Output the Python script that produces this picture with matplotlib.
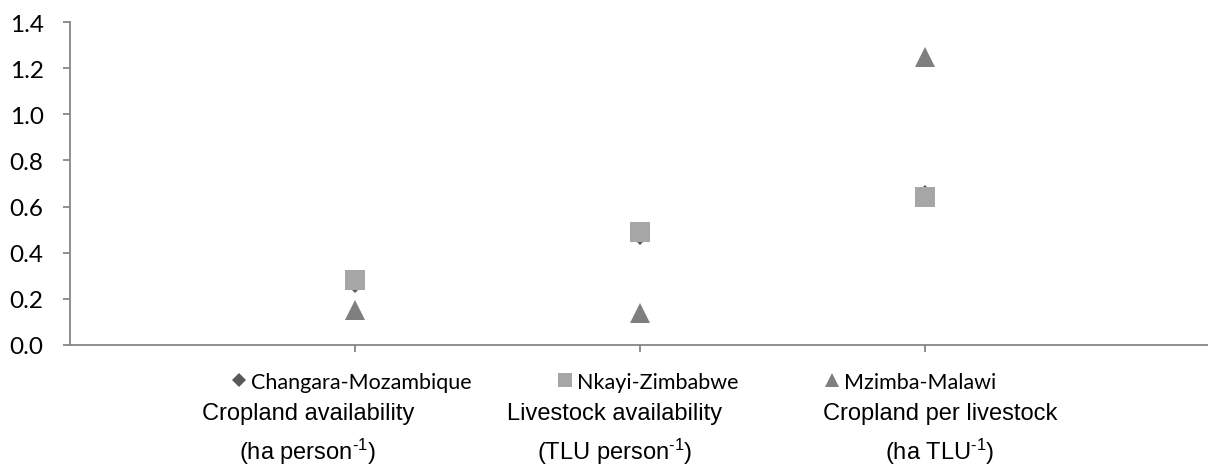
import matplotlib.pyplot as plt
from matplotlib.lines import Line2D

plt.rcParams['mathtext.fontset'] = 'custom'
plt.rcParams['mathtext.rm'] = 'Liberation Sans'
plt.rcParams['mathtext.it'] = 'Liberation Sans:italic'

cat_line1 = ['Cropland availability', 'Livestock availability', 'Cropland per livestock']
cat_line2 = [r'(ha person$^{\text{-1}}$)', r'(TLU person$^{\text{-1}}$)', r'(ha TLU$^{\text{-1}}$)']
series_names = ['Changara-Mozambique', 'Nkayi-Zimbabwe', 'Mzimba-Malawi']
changara = [0.26, 0.47, 0.66]
nkayi = [0.28, 0.49, 0.64]
mzimba = [0.15, 0.14, 1.25]
yticks = [0.0, 0.2, 0.4, 0.6, 0.8, 1.0, 1.2, 1.4]

W, H = 1208, 477
fig = plt.figure(figsize=(W / 100, H / 100), dpi=100)
ax = fig.add_axes([70 / W, (H - 346) / H, 1140 / W, (346 - 23) / H])

x = [1, 2, 3]
styles = [('D', 8, '#595959'), ('s', 14.4, '#A6A6A6'), ('^', 14.5, '#7F7F7F')]
for vals, (m, ms, c), name in zip([changara, nkayi, mzimba], styles, series_names):
    ax.plot(x, vals, linestyle='none', marker=m, markersize=ms, color=c,
            markeredgewidth=0, label=name, clip_on=False)

ax.set_xlim(0, 4)
ax.set_ylim(0, 1.4)
ax.set_yticks(yticks)
ax.set_yticklabels([f'{v:.1f}' for v in yticks], fontfamily='Lato', fontsize=17.5)
ax.set_xticks(x)
ax.set_xticklabels([])

for s in ['top', 'right']:
    ax.spines[s].set_visible(False)
for s in ['left', 'bottom']:
    ax.spines[s].set_color('#868686')
    ax.spines[s].set_linewidth(1.3)
ax.tick_params(axis='both', direction='out', length=5, width=1.3, color='#868686')
ax.tick_params(axis='y', pad=14)

# category labels written below the legend
label_pos = [308, 615, 940]
for l1, l2, px in zip(cat_line1, cat_line2, label_pos):
    fig.text(px / W, (H - 414) / H, l1, ha='center', va='center',
             fontfamily='Liberation Sans', fontsize=17)
    fig.text(px / W, (H - 452) / H, l2, ha='center', va='center',
             fontfamily='Liberation Sans', fontsize=17)

leg_sizes = [7.5, 9.5, 9.5]
handles = [Line2D([], [], linestyle='none', marker=m, markersize=s, color=c,
                  markeredgewidth=0) for (m, _, c), s in zip(styles, leg_sizes)]
fig.legend(handles, series_names, loc='center', bbox_to_anchor=(614 / W, (H - 383) / H),
           ncol=3, frameon=False, prop={'family': 'Lato', 'size': 15.5},
           handlelength=0.7, handletextpad=0.2, columnspacing=4.0)

fig.savefig('out.png', dpi=100)
